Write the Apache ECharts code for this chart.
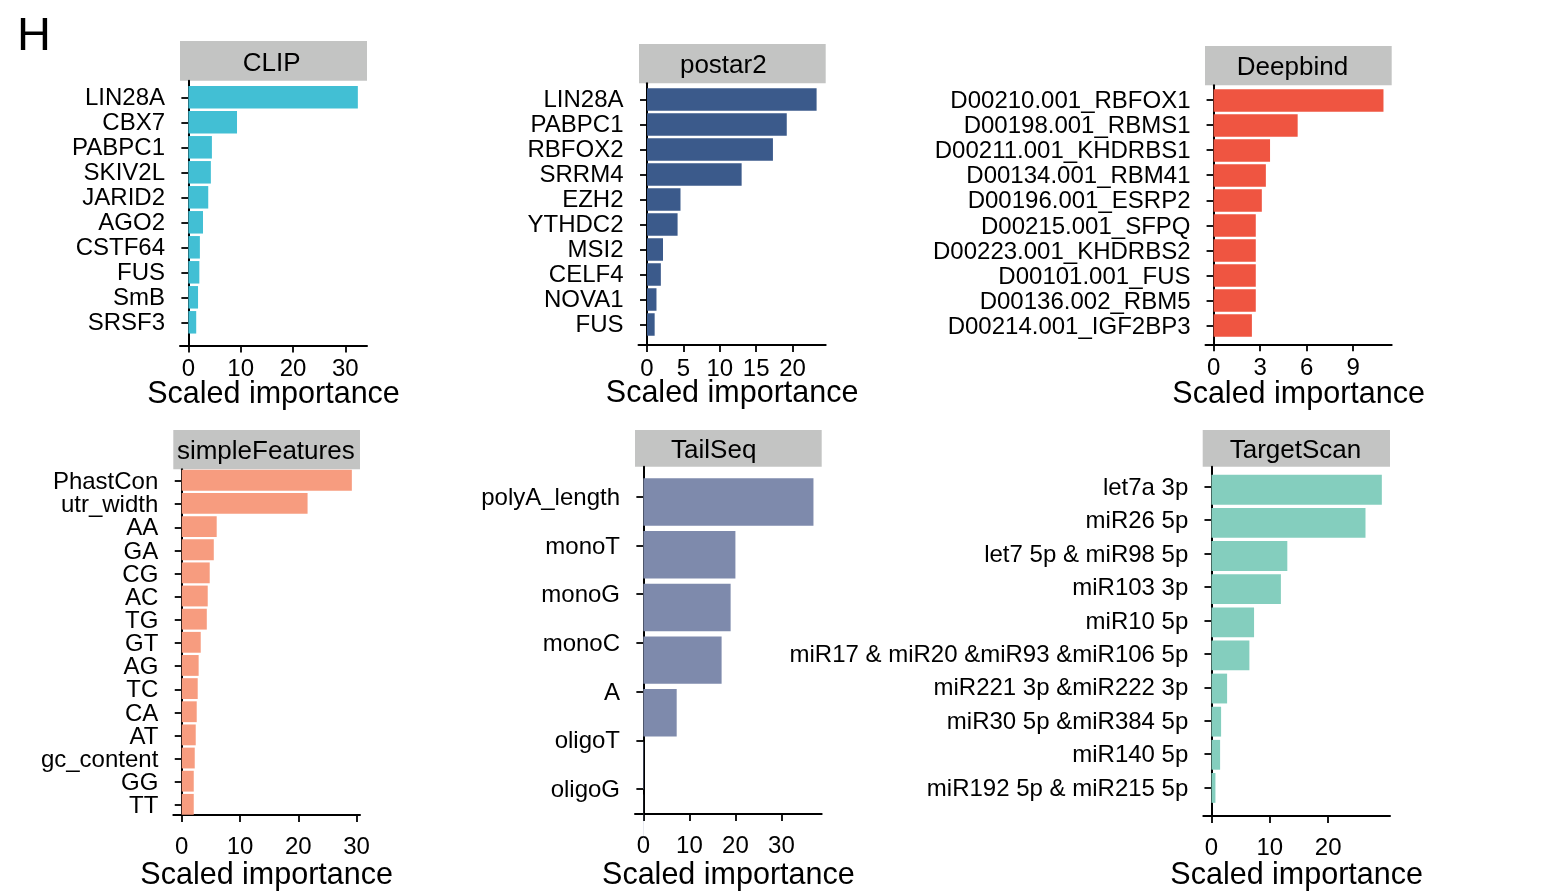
<!DOCTYPE html>
<html>
<head>
<meta charset="utf-8">
<script src="https://cdn.jsdelivr.net/npm/echarts@6/dist/echarts.min.js"></script>
<style>html,body{margin:0;padding:0;background:#fff;}#c{width:1558px;height:892px;}</style>
</head>
<body>
<div id="c"></div>
<script>
// ---------- data ----------
const clipCats = ['LIN28A','CBX7','PABPC1','SKIV2L','JARID2','AGO2','CSTF64','FUS','SmB','SRSF3'];
const clipVals = [32.4, 9.3, 4.5, 4.3, 3.8, 2.8, 2.2, 2.1, 1.85, 1.5];
const clipTicks = [0, 10, 20, 30];

const postarCats = ['LIN28A','PABPC1','RBFOX2','SRRM4','EZH2','YTHDC2','MSI2','CELF4','NOVA1','FUS'];
const postarVals = [23.3, 19.2, 17.3, 13.0, 4.6, 4.2, 2.2, 1.9, 1.3, 1.05];
const postarTicks = [0, 5, 10, 15, 20];

const deepCats = ['D00210.001_RBFOX1','D00198.001_RBMS1','D00211.001_KHDRBS1','D00134.001_RBM41','D00196.001_ESRP2','D00215.001_SFPQ','D00223.001_KHDRBS2','D00101.001_FUS','D00136.002_RBM5','D00214.001_IGF2BP3'];
const deepVals = [10.95, 5.42, 3.64, 3.37, 3.11, 2.72, 2.72, 2.72, 2.72, 2.47];
const deepTicks = [0, 3, 6, 9];

const simpleCats = ['PhastCon','utr_width','AA','GA','CG','AC','TG','GT','AG','TC','CA','AT','gc_content','GG','TT'];
const simpleVals = [29.2, 21.6, 6.0, 5.5, 4.8, 4.46, 4.3, 3.26, 2.9, 2.74, 2.57, 2.4, 2.23, 2.06, 2.06];
const simpleTicks = [0, 10, 20, 30];

const tailCats = ['polyA_length','monoT','monoG','monoC','A','oligoT','oligoG'];
const tailVals = [36.96, 20.0, 18.96, 17.0, 7.24, 0.1, 0.04];
const tailTicks = [0, 10, 20, 30];

const tsCats = ['let7a 3p','miR26 5p','let7 5p & miR98 5p','miR103 3p','miR10 5p','miR17 & miR20 &miR93 &miR106 5p','miR221 3p &miR222 3p','miR30 5p &miR384 5p','miR140 5p','miR192 5p & miR215 5p'];
const tsVals = [29.2, 26.4, 13.0, 11.9, 7.3, 6.5, 2.68, 1.65, 1.48, 0.68];
const tsTicks = [0, 10, 20];

const panelTitles = ['CLIP','postar2','Deepbind','simpleFeatures','TailSeq','TargetScan'];
const panelColors = ['#42BFD4','#3B5A8B','#EF5541','#F79C7F','#7E8AAC','#84CEBE'];

// ---------- layout (positions only) ----------
const FONT = '"Liberation Sans", Arial, Helvetica, sans-serif';
const panels = [
  {cats: clipCats, vals: clipVals, ticks: clipTicks, min: -1.6, max: 34.15,
   axL: 180, axR: 367, axT: 80.7, axB: 345.5, lab: [84.8, 334.8], bar: [84.8, 334.8],
   strip: [180, 41, 367, 80.7], stripX: 271.7, lm: 12, ng: 34},
  {cats: postarCats, vals: postarVals, ticks: postarTicks, min: -1.17, max: 24.55,
   axL: 638.5, axR: 825.7, axT: 83.3, axB: 345, lab: [86.8, 336.8], bar: [87, 337],
   strip: [639, 44, 825.7, 83.3], stripX: 723.3, lm: 12, ng: 33.5},
  {cats: deepCats, vals: deepVals, ticks: deepTicks, min: -0.52, max: 11.48,
   axL: 1205.5, axR: 1391.7, axT: 85.3, axB: 344.3, lab: [87.4, 338.3], bar: [88, 338],
   strip: [1205, 46, 1391.7, 85.3], stripX: 1292.5, lm: 12, ng: 35},
  {cats: simpleCats, vals: simpleVals, ticks: simpleTicks, min: -1.45, max: 30.6,
   axL: 173.3, axR: 360, axT: 469.3, axB: 818.3, lab: [469.4, 816.6], bar: [468.7, 815.9],
   strip: [173.3, 430, 360, 469.3], stripX: 265.8, lm: 20, ng: 45},
  {cats: tailCats, vals: tailVals, ticks: tailTicks, min: -1.82, max: 38.75,
   axL: 635, axR: 821.7, axT: 466.7, axB: 818.3, lab: [472.3, 813.4], bar: [475.65, 844.6],
   strip: [635, 430, 821.7, 466.7], stripX: 713.7, lm: 20, ng: 46},
  {cats: tsCats, vals: tsVals, ticks: tsTicks, min: -1.4, max: 30.6,
   axL: 1203.3, axR: 1390, axT: 466.7, axB: 817.3, lab: [470, 804.4], bar: [473.2, 804.5],
   strip: [1202.7, 430, 1390, 466.7], stripX: 1295.5, lm: 20, ng: 44}
];

const grid = [], xAxis = [], yAxis = [], series = [], graphic = [];

panels.forEach((p, i) => {
  const w = p.axR - p.axL;
  const gB = grid.length;
  // axes frame grid
  grid.push({left: p.axL, top: p.axT, width: w, height: p.axB - p.axT});
  xAxis.push({
    type: 'value', gridIndex: gB, min: p.min, max: p.max,
    axisLine: {show: true, lineStyle: {color: '#000', width: 2}},
    axisTick: {show: true, length: 7, customValues: p.ticks, lineStyle: {color: '#000', width: 1.8}},
    axisLabel: {show: true, customValues: p.ticks, margin: p.lm, color: '#000', fontSize: 24, fontFamily: FONT},
    splitLine: {show: false},
    name: 'Scaled importance', nameLocation: 'middle', nameGap: p.ng, nameMoveOverlap: false,
    nameTextStyle: {color: '#000', fontSize: 30.5, fontFamily: FONT}
  });
  yAxis.push({
    type: 'value', gridIndex: gB, min: 0, max: 1,
    axisLine: {show: true, lineStyle: {color: '#000', width: 2}},
    axisTick: {show: false}, axisLabel: {show: false}, splitLine: {show: false}
  });
  // label grid
  const gL = grid.length;
  grid.push({left: p.axL, top: p.lab[0], width: w, height: p.lab[1] - p.lab[0]});
  xAxis.push({type: 'value', gridIndex: gL, min: p.min, max: p.max, show: false});
  yAxis.push({
    type: 'category', gridIndex: gL, data: p.cats, inverse: true,
    axisLine: {show: false},
    axisTick: {show: true, alignWithLabel: true, length: 7, interval: 0, lineStyle: {color: '#000', width: 1.8}},
    axisLabel: {show: true, interval: 0, margin: 15, verticalAlign: 'top', lineHeight: 3,
      color: '#000', fontSize: 24, fontFamily: FONT},
    splitLine: {show: false}
  });
  // bar grid
  const gA = grid.length;
  grid.push({left: p.axL, top: p.bar[0], width: w, height: p.bar[1] - p.bar[0]});
  xAxis.push({type: 'value', gridIndex: gA, min: p.min, max: p.max, show: false});
  const yA = yAxis.length;
  yAxis.push({type: 'category', gridIndex: gA, data: p.cats, inverse: true, show: false});
  series.push({
    type: 'bar', xAxisIndex: xAxis.length - 1, yAxisIndex: yA,
    data: p.vals, barCategoryGap: '10%', silent: true,
    itemStyle: {color: panelColors[i]}
  });
  // strip
  const s = p.strip;
  graphic.push({type: 'rect', shape: {x: s[0], y: s[1], width: s[2] - s[0], height: s[3] - s[1]},
    style: {fill: '#c3c4c3'}, silent: true});
  graphic.push({type: 'text', x: p.stripX, y: (s[1] + s[3]) / 2 + 2.5,
    style: {text: panelTitles[i], fill: '#000', font: '26px ' + FONT, align: 'center', verticalAlign: 'middle'}, silent: true});
});

graphic.push({type: 'text', x: 17, y: 37,
  style: {text: 'H', fill: '#000', font: '47px ' + FONT, align: 'left', verticalAlign: 'middle'}, silent: true});

const chart = echarts.init(document.getElementById('c'), null, {renderer: 'canvas'});
chart.setOption({
  animation: false,
  backgroundColor: '#fff',
  grid, xAxis, yAxis, series, graphic
});
</script>
</body>
</html>
